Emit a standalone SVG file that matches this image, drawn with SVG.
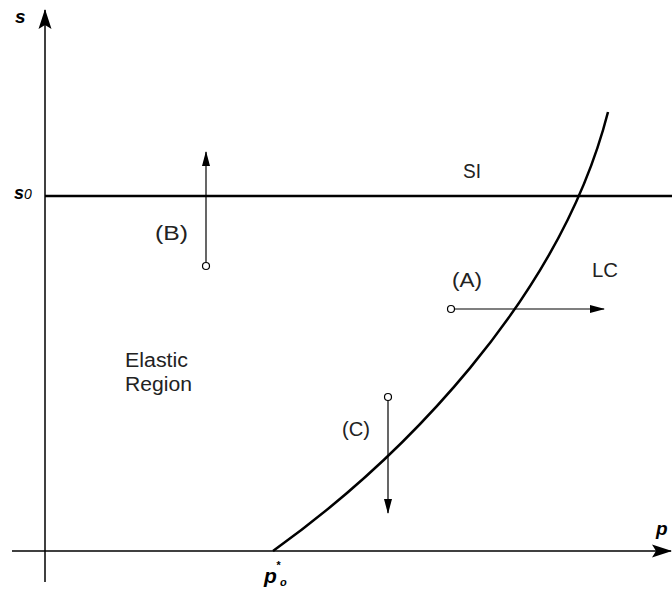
<svg xmlns="http://www.w3.org/2000/svg" width="672" height="590" viewBox="0 0 672 590">
<style>
.lbl{font-family:"Liberation Sans",Arial,sans-serif;font-size:20px;fill:#222}
.var{font-family:"Liberation Sans",Arial,sans-serif;font-weight:bold;font-style:italic;fill:#000}
.ax{stroke:#000;stroke-width:1.5;fill:none}
.arr{stroke:#000;stroke-width:1.2;fill:none}
.pt{stroke:#000;stroke-width:1.2;fill:#fff}
</style>
<defs>
<marker id="ah" markerWidth="16" markerHeight="10" refX="14" refY="5" orient="auto" markerUnits="userSpaceOnUse">
<path d="M0,1 L15,5 L0,9 Z" fill="#000"/>
</marker>
<marker id="axh" markerWidth="20" markerHeight="14" refX="19" refY="7" orient="auto" markerUnits="userSpaceOnUse">
<path d="M0,0.5 L20,7 L0,13.5 L4,7 Z" fill="#000"/>
</marker>
</defs>
<rect width="672" height="590" fill="#fff"/>
<g id="connectors">
<line id="s-axis" class="ax" x1="45" y1="582" x2="45" y2="10" marker-end="url(#axh)"/>
<line id="p-axis" class="ax" x1="12" y1="551" x2="671" y2="551" marker-end="url(#axh)"/>
<line id="SI-line" x1="45" y1="196" x2="672" y2="196" stroke="#000" stroke-width="2.5"/>
<path id="LC-curve" d="M273,551 C400,460 560,300 608,112" stroke="#000" stroke-width="2.5" fill="none"/>
<line id="arrow-B" class="arr" x1="206" y1="262" x2="206" y2="152" marker-end="url(#ah)"/>
<line id="arrow-A" class="arr" x1="455" y1="309" x2="604" y2="309" marker-end="url(#ah)"/>
<line id="arrow-C" class="arr" x1="388" y1="401" x2="388" y2="513" marker-end="url(#ah)"/>
</g>
<g id="point-B">
<circle class="pt" cx="206" cy="266" r="3.5"/>
<text class="lbl" x="155" y="240" textLength="33" lengthAdjust="spacingAndGlyphs">(B)</text>
</g>
<g id="point-A">
<circle class="pt" cx="451" cy="309" r="3.5"/>
<text class="lbl" x="452" y="287" textLength="30" lengthAdjust="spacingAndGlyphs">(A)</text>
</g>
<g id="point-C">
<circle class="pt" cx="388" cy="397" r="3.5"/>
<text class="lbl" x="342" y="436" textLength="28" lengthAdjust="spacingAndGlyphs">(C)</text>
</g>
<g id="label-SI"><text class="lbl" x="463" y="178" textLength="18" lengthAdjust="spacingAndGlyphs">SI</text></g>
<g id="label-LC"><text class="lbl" x="592" y="277" textLength="26" lengthAdjust="spacingAndGlyphs">LC</text></g>
<g id="label-elastic">
<text class="lbl" x="125" y="367" textLength="63" lengthAdjust="spacingAndGlyphs">Elastic</text>
<text class="lbl" x="125" y="391" textLength="67" lengthAdjust="spacingAndGlyphs">Region</text>
</g>
<g id="label-s"><text class="var" x="15" y="23" font-size="19">s</text></g>
<g id="label-s0"><text class="var" x="14" y="199" font-size="18">s<tspan font-weight="normal" font-size="14">0</tspan></text></g>
<g id="label-p"><text class="var" x="656" y="535" font-size="19">p</text></g>
<g id="label-p0"><text class="var" x="264" y="583" font-size="21">p</text><text class="var" x="276" y="569" font-size="11" font-weight="normal">*</text><text class="var" x="280" y="586" font-size="11" font-weight="normal">o</text></g>
</svg>
